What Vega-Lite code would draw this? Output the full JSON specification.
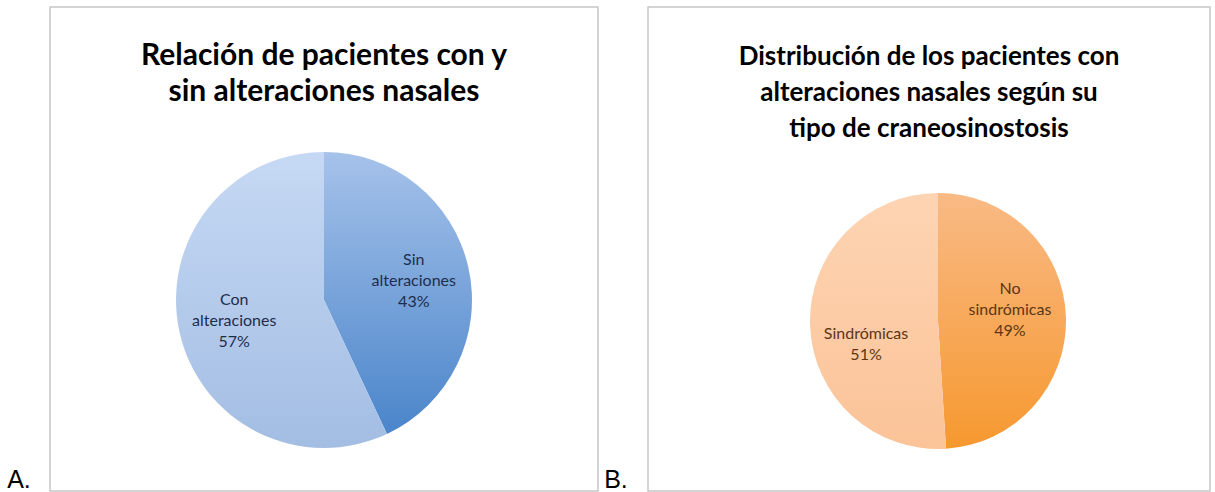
{
  "$schema": "https://vega.github.io/schema/vega-lite/v6.json",
  "background": "white",
  "padding": {"left": 0, "top": 6, "right": 0, "bottom": 0},
  "spacing": 0,
  "bounds": "flush",
  "config": {"view": {"stroke": null}, "font": "Lato"},
  "hconcat": [
    {
      "width": 50,
      "height": 484,
      "data": {"values": [{"panel": "A."}]},
      "mark": {"type": "text", "font": "Liberation Sans", "fontSize": 25, "baseline": "bottom", "align": "center", "y": {"expr": "height + 2"}, "dx": -6, "color": "#000000"},
      "encoding": {"text": {"field": "panel"}}
    },
    {
      "width": 548,
      "height": 484,
      "view": {"stroke": "#c6c6c6", "strokeWidth": 1.5},
      "title": {
        "text": ["Relación de pacientes con y", "sin alteraciones nasales"],
        "font": "Lato", "fontSize": 30, "fontWeight": "bold", "color": "#000000",
        "lineHeight": 36, "anchor": "middle", "frame": "group", "baseline": "top", "offset": -100
      },
      "data": {"values": [
        {"category": "Sin alteraciones", "percent": 43},
        {"category": "Con alteraciones", "percent": 57}
      ]},
      "transform": [
        {"stack": "percent", "groupby": [], "sort": [{"field": "percent", "order": "ascending"}], "as": ["start", "end"]},
        {"calculate": "(datum.start + datum.end) / 2", "as": "mid"},
        {"calculate": "replace(datum.category, ' ', '\\n') + '\\n' + datum.percent + '%'", "as": "label"}
      ],
      "layer": [
        {
          "transform": [{"filter": "datum.category === 'Sin alteraciones'"}],
          "mark": {"type": "arc", "radius": 148, "yOffset": 51,
            "fill": {"gradient": "linear", "x1": 0, "y1": 0, "x2": 0, "y2": 1,
              "stops": [{"offset": 0, "color": "#a6c2ea"}, {"offset": 1, "color": "#4a85ca"}]}},
          "encoding": {
            "theta": {"field": "start", "type": "quantitative", "scale": {"domain": [0, 100]}},
            "theta2": {"field": "end"}
          }
        },
        {
          "transform": [{"filter": "datum.category === 'Con alteraciones'"}],
          "mark": {"type": "arc", "radius": 148, "yOffset": 51,
            "fill": {"gradient": "linear", "x1": 0, "y1": 0, "x2": 0, "y2": 1,
              "stops": [{"offset": 0, "color": "#c6d9f4"}, {"offset": 1, "color": "#a3bde3"}]}},
          "encoding": {
            "theta": {"field": "start", "type": "quantitative", "scale": {"domain": [0, 100]}},
            "theta2": {"field": "end"}
          }
        },
        {
          "mark": {"type": "text", "radius": 92, "yOffset": 31, "font": "Lato", "fontSize": 16,
            "lineBreak": "\n", "lineHeight": 21, "color": "#1f2d4d"},
          "encoding": {
            "theta": {"field": "mid", "type": "quantitative", "scale": {"domain": [0, 100]}},
            "text": {"field": "label"}
          }
        }
      ]
    },
    {
      "width": 50,
      "height": 484,
      "data": {"values": [{"panel": "B."}]},
      "mark": {"type": "text", "font": "Liberation Sans", "fontSize": 25, "baseline": "bottom", "align": "center", "y": {"expr": "height + 2"}, "dx": -7, "color": "#000000"},
      "encoding": {"text": {"field": "panel"}}
    },
    {
      "width": 562,
      "height": 484,
      "view": {"stroke": "#c6c6c6", "strokeWidth": 1.5},
      "title": {
        "text": ["Distribución de los pacientes con", "alteraciones nasales según su", "tipo de craneosinostosis"],
        "font": "Lato", "fontSize": 26, "fontWeight": "bold", "color": "#000000",
        "lineHeight": 36, "anchor": "middle", "frame": "group", "baseline": "top", "offset": -135
      },
      "data": {"values": [
        {"category": "No sindrómicas", "percent": 49},
        {"category": "Sindrómicas", "percent": 51}
      ]},
      "transform": [
        {"stack": "percent", "groupby": [], "sort": [{"field": "percent", "order": "ascending"}], "as": ["start", "end"]},
        {"calculate": "(datum.start + datum.end) / 2", "as": "mid"},
        {"calculate": "replace(datum.category, ' ', '\\n') + '\\n' + datum.percent + '%'", "as": "label"}
      ],
      "layer": [
        {
          "transform": [{"filter": "datum.category === 'No sindrómicas'"}],
          "mark": {"type": "arc", "radius": 128, "xOffset": 9, "yOffset": 72,
            "fill": {"gradient": "linear", "x1": 0, "y1": 0, "x2": 0, "y2": 1,
              "stops": [{"offset": 0, "color": "#f9ba85"}, {"offset": 1, "color": "#f6982f"}]}},
          "encoding": {
            "theta": {"field": "start", "type": "quantitative", "scale": {"domain": [0, 100]}},
            "theta2": {"field": "end"}
          }
        },
        {
          "transform": [{"filter": "datum.category === 'Sindrómicas'"}],
          "mark": {"type": "arc", "radius": 128, "xOffset": 9, "yOffset": 72,
            "fill": {"gradient": "linear", "x1": 0, "y1": 0, "x2": 0, "y2": 1,
              "stops": [{"offset": 0, "color": "#fdd4b3"}, {"offset": 1, "color": "#fbc398"}]}},
          "encoding": {
            "theta": {"field": "start", "type": "quantitative", "scale": {"domain": [0, 100]}},
            "theta2": {"field": "end"}
          }
        },
        {
          "transform": [{"filter": "datum.category === 'No sindrómicas'"}],
          "mark": {"type": "text", "radius": 72, "xOffset": 9, "yOffset": 42, "font": "Lato", "fontSize": 16,
            "lineBreak": "\n", "lineHeight": 21, "color": "#5b3614"},
          "encoding": {
            "theta": {"field": "mid", "type": "quantitative", "scale": {"domain": [0, 100]}},
            "text": {"field": "label"}
          }
        },
        {
          "transform": [{"filter": "datum.category === 'Sindrómicas'"}],
          "mark": {"type": "text", "radius": 72, "xOffset": 9, "yOffset": 83, "font": "Lato", "fontSize": 16,
            "lineBreak": "\n", "lineHeight": 21, "color": "#5b3614"},
          "encoding": {
            "theta": {"field": "mid", "type": "quantitative", "scale": {"domain": [0, 100]}},
            "text": {"field": "label"}
          }
        }
      ]
    }
  ]
}
